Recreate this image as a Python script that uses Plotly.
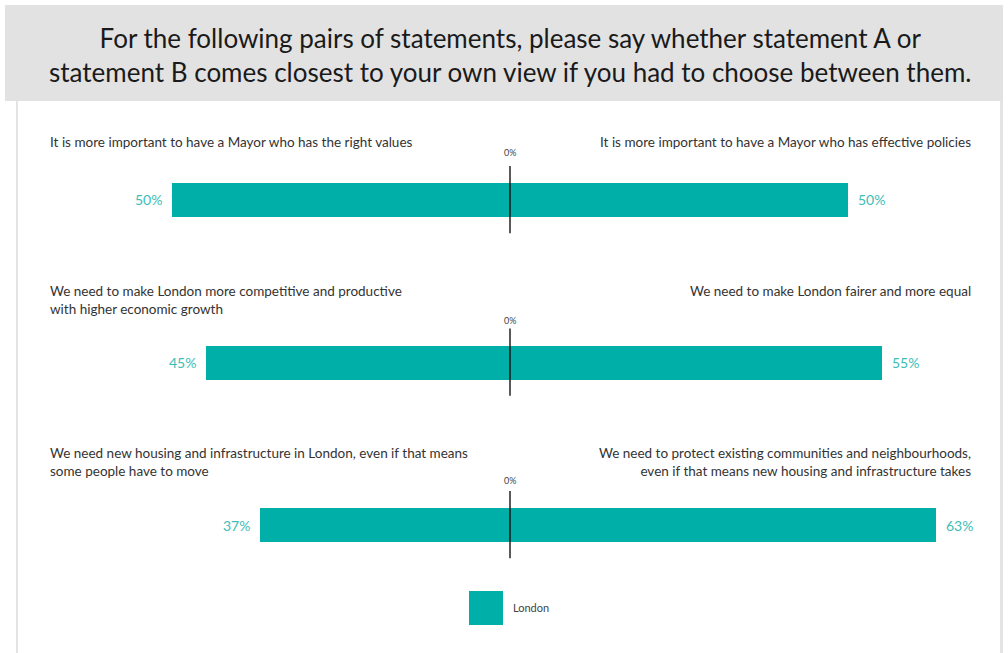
import plotly.graph_objects as go

# ---- data -------------------------------------------------------------
rows = ["values_vs_policies", "growth_vs_fairness", "housing_vs_communities"]
statement_a = [
    "It is more important to have a Mayor who has the right values",
    "We need to make London more competitive and productive<br>with higher economic growth",
    "We need new housing and infrastructure in London, even if that means<br>some people have to move",
]
statement_b = [
    "It is more important to have a Mayor who has effective policies",
    "We need to make London fairer and more equal",
    "We need to protect existing communities and neighbourhoods,<br>even if that means new housing and infrastructure takes",
]
share_a = [50, 45, 37]   # % choosing statement A (drawn to the left)
share_b = [50, 55, 63]   # % choosing statement B (drawn to the right)
series_name = "London"

title_text = ("For the following pairs of statements, please say whether statement A or<br>"
              "statement B comes closest to your own view if you had to choose between them.")

# ---- styling / layout helpers ----------------------------------------
W, H = 1008, 653
TEAL = "#00b0a8"
LABEL_TEAL = "#3dbdb6"
TEXT = "#333333"
FONT = "Lato"


def px(x):
    return x / W


def py(y):
    return 1 - y / H


fig = go.Figure()

fig.add_trace(go.Bar(
    y=rows, x=[-v for v in share_a], orientation="h",
    marker=dict(color=TEAL, line=dict(width=0)), width=0.21,
    name=series_name, showlegend=False, hoverinfo="skip",
))
fig.add_trace(go.Bar(
    y=rows, x=share_b, orientation="h",
    marker=dict(color=TEAL, line=dict(width=0)), width=0.21,
    name=series_name, showlegend=False, hoverinfo="skip",
))

shapes = []
annotations = []

# title banner and panel frame
shapes.append(dict(type="rect", xref="paper", yref="paper",
                   x0=px(5), x1=px(1003), y0=py(101), y1=py(5),
                   fillcolor="#e2e2e2", line=dict(width=0), layer="below"))
shapes.append(dict(type="rect", xref="paper", yref="paper",
                   x0=px(16), x1=px(18), y0=py(653), y1=py(101),
                   fillcolor="#e4e4e4", line=dict(width=0), layer="below"))
shapes.append(dict(type="rect", xref="paper", yref="paper",
                   x0=px(1000), x1=px(1003), y0=py(653), y1=py(101),
                   fillcolor="#e4e4e4", line=dict(width=0), layer="below"))
annotations.append(dict(text=title_text, xref="paper", yref="paper",
                        x=px(510), y=py(55), xanchor="center", yanchor="middle",
                        showarrow=False, align="center",
                        font=dict(family=FONT, size=26, color="#1a1a1a")))

# text tops of the statement labels and of the "0%" labels for each row (pixels)
label_tops = [132, 281, 443]
zero_label_y = [152, 320, 480]

for i, r in enumerate(rows):
    # zero line and its label
    shapes.append(dict(type="line", xref="x", yref="y", x0=0, x1=0,
                       y0=i - 0.21, y1=i + 0.205,
                       line=dict(color="black", width=1.3)))
    annotations.append(dict(text="0%", xref="x", yref="paper", x=0,
                            y=py(zero_label_y[i]),
                            showarrow=False, xanchor="center", yanchor="middle",
                            font=dict(family=FONT, size=9, color="#444444")))
    # value labels
    annotations.append(dict(text=f"{share_a[i]}%", xref="x", yref="y",
                            x=-share_a[i], y=r, xanchor="right", xshift=-8,
                            showarrow=False,
                            font=dict(family=FONT, size=14, color=LABEL_TEAL)))
    annotations.append(dict(text=f"{share_b[i]}%", xref="x", yref="y",
                            x=share_b[i], y=r, xanchor="left", xshift=8,
                            showarrow=False,
                            font=dict(family=FONT, size=14, color=LABEL_TEAL)))
    # statements
    annotations.append(dict(text=statement_a[i], xref="paper", yref="paper",
                            x=px(48), y=py(label_tops[i]), xanchor="left",
                            yanchor="top", align="left", showarrow=False,
                            font=dict(family=FONT, size=13.5, color=TEXT)))
    annotations.append(dict(text=statement_b[i], xref="paper", yref="paper",
                            x=px(973), y=py(label_tops[i]), xanchor="right",
                            yanchor="top", align="right", showarrow=False,
                            font=dict(family=FONT, size=13.5, color=TEXT)))

# legend
shapes.append(dict(type="rect", xref="paper", yref="paper",
                   x0=px(469), x1=px(503), y0=py(625), y1=py(591),
                   fillcolor=TEAL, line=dict(width=0)))
annotations.append(dict(text=series_name, xref="paper", yref="paper",
                        x=px(511), y=py(607), xanchor="left", yanchor="middle",
                        showarrow=False,
                        font=dict(family=FONT, size=11, color="#444444")))

fig.update_layout(
    width=W, height=H,
    margin=dict(l=0, r=0, t=0, b=0),
    paper_bgcolor="white", plot_bgcolor="rgba(0,0,0,0)",
    barmode="relative", bargap=0,
    showlegend=False,
    xaxis=dict(domain=[px(50), px(970)], range=[-68.05, 68.05],
               visible=False, fixedrange=True),
    yaxis=dict(domain=[py(606.25), py(118.75)], range=[2.5, -0.5],
               type="category", categoryorder="array", categoryarray=rows,
               visible=False, fixedrange=True),
    shapes=shapes,
    annotations=annotations,
)

fig.write_html("out.html")
